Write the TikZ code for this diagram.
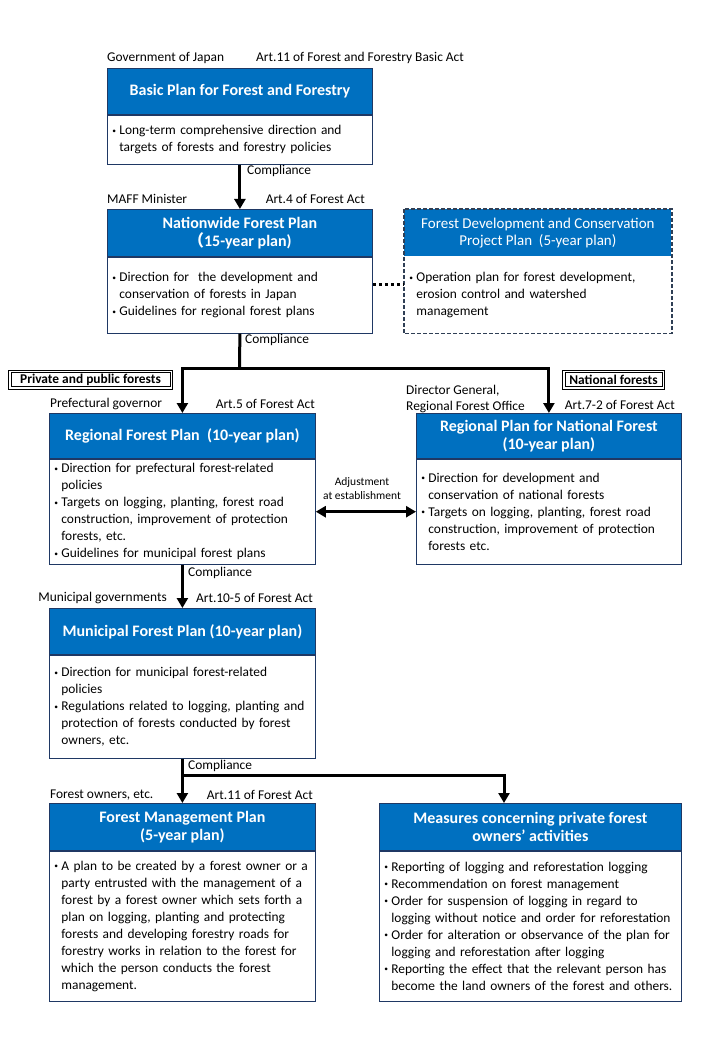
\documentclass[tikz,border=0pt]{standalone}
\usepackage{fontspec}
\setmainfont{Carlito}
\newfontfamily\cjkfont{Noto Sans CJK JP}
\usetikzlibrary{arrows.meta,calc}
\definecolor{hdblue}{HTML}{0070C0}
\definecolor{edge}{HTML}{1F3864}
\definecolor{dashedge}{HTML}{2F3F55}
\newcommand{\bl}[1]{\mbox{\makebox[7pt][l]{\raisebox{1.5pt}{\fontsize{7.5}{7}\selectfont •}}#1}}
\newcommand{\cl}[1]{\mbox{\hspace*{7pt}#1}}
\newcommand{\bdfont}{\fontsize{13.4}{17}\selectfont}
\newcommand{\hdfont}{\fontsize{16}{18}\selectfont\bfseries}
\tikzset{
  hd/.style={fill=hdblue, draw=edge, line width=0.8pt, text=white, font=\hdfont, align=center, inner sep=2pt, anchor=north west},
  bd/.style={draw=edge, line width=0.8pt, fill=white, font=\bdfont, align=left, inner xsep=5pt, inner ysep=2pt, anchor=north},
  lbl/.style={font=\bdfont, inner sep=0pt},
  sect/.style={draw, line width=0.7pt, font=\bdfont\bfseries, inner xsep=3pt, inner ysep=1pt, minimum height=14pt},
  ln/.style={line width=3pt, miter limit=4},
  arr/.style={ln, -{Triangle[length=10pt,width=11pt]}},
  dashbox/.style={draw=dashedge, line width=1.4pt, dash pattern=on 4pt off 2pt},
}
\begin{document}
\begin{tikzpicture}[x=1pt,y=-1pt]
\useasboundingbox (0,0) rectangle (720,1040);

% basic plan
\node[lbl, anchor=west] (govt) at (107,58) {Government of Japan};
\node[lbl, anchor=west] (actA) at (256,58) {Art.11 of Forest and Forestry Basic Act};
\node[hd, minimum width=265pt, minimum height=46pt] (basicH) at (107,68) {Basic Plan for Forest and Forestry};
\node[bd, text width=255pt, minimum height=49pt] (basicB) at (basicH.south) {\bl{Long-term comprehensive direction and}\\\cl{targets of forests and forestry policies}};

% nationwide plan
\node[lbl, anchor=west] (maff) at (107,199) {MAFF Minister};
\node[lbl, anchor=east] (actB) at (365,199) {Art.4 of Forest Act};
\node[hd, minimum width=265pt, minimum height=47pt] (nationH) at (107,209) {Nationwide Forest Plan\\{\cjkfont （}15-year plan)};
\node[bd, text width=255pt, minimum height=76pt] (nationB) at (nationH.south) {\bl{Direction for\ \ the development and}\\\cl{conservation of forests in Japan}\\\bl{Guidelines for regional forest plans}};

% project plan
\node[hd, draw=none, font=\fontsize{15}{17}\selectfont, minimum width=267pt, minimum height=47pt] (projH) at (404,209) {Forest Development and Conservation\\Project Plan\ \ (5-year plan)};
\node[bd, draw=none, text width=257pt, minimum height=76pt] (projB) at (projH.south) {\bl{Operation plan for forest development,}\\\cl{erosion control and watershed}\\\cl{management}};
\draw[dashbox] (projH.north west) rectangle (projB.south east);
\draw[ln, dash pattern=on 3pt off 3pt] ([yshift=11pt]nationB.east) -- ([yshift=11pt]projB.west);

\draw[arr] (basicB.south) -- (nationH.north);
\node[lbl, anchor=west] (compA) at (247,171) {Compliance};

% split to regional plans
\coordinate (split) at (239.5,368);
\node[lbl, anchor=west] (compB) at (245,340) {Compliance};
\node[sect, minimum width=159pt] (priv) at (90.5,379.5) {Private and public forests};
\draw[line width=0.7pt] ([xshift=-2pt,yshift=2pt]priv.north west) rectangle ([xshift=2pt,yshift=-2pt]priv.south east);
\node[sect, minimum width=97pt] (natl) at (613.5,379.5) {National forests};
\draw[line width=0.7pt] ([xshift=-2pt,yshift=2pt]natl.north west) rectangle ([xshift=2pt,yshift=-2pt]natl.south east);

% regional forest plan
\node[lbl, anchor=west] (pref) at (50,404) {Prefectural governor};
\node[lbl, anchor=east] (actC) at (315,404) {Art.5 of Forest Act};
\node[hd, minimum width=266pt, minimum height=45pt] (regH) at (49,413) {Regional Forest Plan\ \ (10-year plan)};
\node[bd, text width=256pt, minimum height=105pt] (regB) at (regH.south) {\bl{Direction for prefectural forest-related}\\\cl{policies}\\\bl{Targets on logging, planting, forest road}\\\cl{construction, improvement of protection}\\\cl{forests, etc.}\\\bl{Guidelines for municipal forest plans}};

% regional plan for national forest
\node[lbl, anchor=west, align=left, font=\fontsize{13.4}{16}\selectfont] (dirg) at (406,399) {Director General,\\Regional Forest Office};
\node[lbl, anchor=east] (actD) at (675,405) {Art.7-2 of Forest Act};
\node[hd, minimum width=265pt, minimum height=45pt] (natH) at (416,413) {Regional Plan for National Forest\\(10-year plan)};
\node[bd, text width=255pt, minimum height=105pt] (natB) at (natH.south) {\bl{Direction for development and}\\\cl{conservation of national forests}\\\bl{Targets on logging, planting, forest road}\\\cl{construction, improvement of protection}\\\cl{forests etc.}};

\draw[ln] (nationB.south) -- (split);
\draw[arr] (split) -| (regH.north);
\draw[arr] (split) -| (natH.north);

\draw[ln, {Triangle[length=10pt,width=11pt]}-{Triangle[length=10pt,width=11pt]}] (regB.east) -- (natB.west);
\node[lbl, align=center, font=\fontsize{11.5}{14}\selectfont] (adj) at (362,489) {Adjustment\\at establishment};

% municipal forest plan
\node[lbl, anchor=west] (compC) at (188,573) {Compliance};
\node[lbl, anchor=east] (muni) at (167,598) {Municipal governments};
\node[lbl, anchor=east] (actE) at (313,598) {Art.10-5 of Forest Act};
\node[hd, minimum width=266pt, minimum height=46pt] (muniH) at (49,608) {Municipal Forest Plan (10-year plan)};
\node[bd, text width=256pt, minimum height=103pt] (muniB) at (muniH.south) {\bl{Direction for municipal forest-related}\\\cl{policies}\\\bl{Regulations related to logging, planting and}\\\cl{protection of forests conducted by forest}\\\cl{owners, etc.}};
\draw[arr] (regB.south) -- (muniH.north);

% forest management plan and measures
\node[lbl, anchor=west] (compD) at (188,766) {Compliance};
\node[lbl, anchor=west] (owner) at (50,795) {Forest owners, etc.};
\node[lbl, anchor=east] (actF) at (313,795) {Art.11 of Forest Act};
\node[hd, minimum width=266pt, minimum height=47pt] (mgmtH) at (49,803) {Forest Management Plan\\(5-year plan)};
\node[bd, text width=256pt, minimum height=150pt] (mgmtB) at (mgmtH.south) {\bl{A plan to be created by a forest owner or a}\\\cl{party entrusted with the management of a}\\\cl{forest by a forest owner which sets forth a}\\\cl{plan on logging, planting and protecting}\\\cl{forests and developing forestry roads for}\\\cl{forestry works in relation to the forest for}\\\cl{which the person conducts the forest}\\\cl{management.}};
\node[hd, minimum width=302pt, minimum height=47pt] (measH) at (379,803) {Measures concerning private forest\\owners’ activities};
\node[bd, text width=292pt, minimum height=150pt] (measB) at (measH.south) {\bl{Reporting of logging and reforestation logging}\\\bl{Recommendation on forest management}\\\bl{Order for suspension of logging in regard to}\\\cl{logging without notice and order for reforestation}\\\bl{Order for alteration or observance of the plan for}\\\cl{logging and reforestation after logging}\\\bl{Reporting the effect that the relevant person has}\\\cl{become the land owners of the forest and others.}};

\coordinate (fork) at (182,775);
\coordinate (measIn) at (504,775);
\draw[arr] (muniB.south) -- (mgmtH.north);
\draw[arr] (fork) -- (measIn) -- (measIn |- measH.north);

\end{tikzpicture}
\end{document}
